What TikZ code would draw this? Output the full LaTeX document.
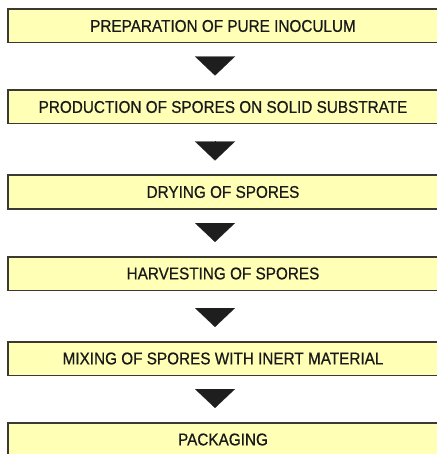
\documentclass[tikz,border=0pt]{standalone}
\usepackage{fontspec}
\setmainfont{Liberation Sans}[FakeStretch=0.9,FakeBold=0.6]
\usetikzlibrary{arrows.meta}
\definecolor{boxfill}{RGB}{255,255,182}
\definecolor{boxline}{RGB}{58,58,50}
\definecolor{tipfill}{RGB}{30,30,30}
\tikzset{
  stage/.style={draw=boxline, fill=boxfill, line width=1.5pt, minimum width=430pt,
    minimum height=33.5pt, inner sep=0pt, text=black!90,
    font=\fontsize{17pt}{19pt}\selectfont},
  flow/.style={line width=0.1pt, tipfill, shorten <=17pt, shorten >=14pt,
    -{Triangle[width=40pt,length=19pt]}}
}
\begin{document}
\begin{tikzpicture}[x=1pt,y=-1pt]
\useasboundingbox (0,0) rectangle (436,454);

% Stages
\node[stage] (prep) at (223,26) {PREPARATION OF PURE INOCULUM};
\node[stage] (prod) at (223,107) {PRODUCTION OF SPORES ON SOLID SUBSTRATE};
\node[stage] (dry) at (223,192) {DRYING OF SPORES};
\node[stage] (harv) at (223,273.5) {HARVESTING OF SPORES};
\node[stage] (mix) at (223,358.5) {MIXING OF SPORES WITH INERT MATERIAL};
\node[stage] (pack) at (223,439.5) {PACKAGING};

% Arrows between stages
\draw[flow] ([xshift=-8pt]prep.south) -- ([xshift=-8pt]prod.north);
\draw[flow] ([xshift=-8pt]prod.south) -- ([xshift=-8pt]dry.north);
\draw[flow] ([xshift=-8pt]dry.south) -- ([xshift=-8pt]harv.north);
\draw[flow] ([xshift=-8pt]harv.south) -- ([xshift=-8pt]mix.north);
\draw[flow] ([xshift=-8pt]mix.south) -- ([xshift=-8pt]pack.north);
\end{tikzpicture}
\end{document}
